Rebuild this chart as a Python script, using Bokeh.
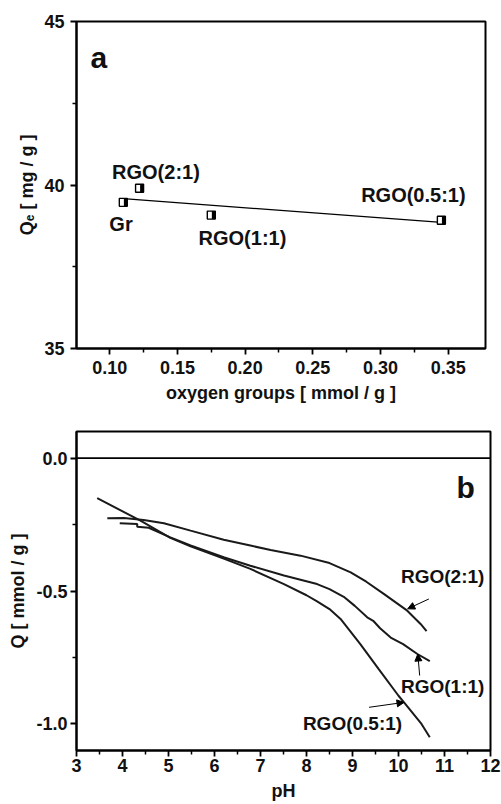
import numpy as np
from bokeh.plotting import figure
from bokeh.layouts import column
from bokeh.models import FixedTicker, ColumnDataSource, Arrow, NormalHead, Span
from bokeh.transform import dodge
from bokeh.core.properties import value
from bokeh.embed import file_html
from bokeh.resources import INLINE

# ---------------- data: panel a ----------------
samples = ["Gr", "RGO(2:1)", "RGO(1:1)", "RGO(0.5:1)"]
oxygen_groups = [0.110, 0.122, 0.175, 0.345]
qe = [39.47, 39.90, 39.08, 38.92]

a_label_text = ["Gr", "RGO(2:1)", "RGO(1:1)", "RGO(0.5:1)"]
a_label_x = [0.1083, 0.1341, 0.198, 0.3243]
a_label_y = [38.80, 40.39, 38.38, 39.70]

a_xticks = [0.10, 0.15, 0.20, 0.25, 0.30, 0.35]
a_xtick_labels = ["0.10", "0.15", "0.20", "0.25", "0.30", "0.35"]
a_xminor = [0.125, 0.175, 0.225, 0.275, 0.325]
a_yticks = [35, 40, 45]
a_ytick_labels = ["35", "40", "45"]
a_yminor = [37.5, 42.5]

# ---------------- data: panel b ----------------
ph_21 = [3.67, 4.03, 4.46, 4.90, 5.48, 6.20, 6.78, 7.22, 7.87, 8.50, 8.96, 9.30, 9.68, 10.19, 10.48, 10.61]
q_21 = [-0.226, -0.225, -0.233, -0.245, -0.273, -0.307, -0.329, -0.346, -0.367, -0.395, -0.430, -0.465, -0.511, -0.574, -0.624, -0.651]

ph_11 = [3.94, 4.32, 4.32, 4.57, 5.04, 5.48, 6.20, 6.78, 7.51, 8.23, 8.50, 8.81, 9.05, 9.32, 9.45, 9.60, 9.83, 10.10, 10.41, 10.68]
q_11 = [-0.245, -0.248, -0.258, -0.262, -0.298, -0.329, -0.373, -0.405, -0.442, -0.474, -0.493, -0.522, -0.556, -0.599, -0.612, -0.640, -0.675, -0.700, -0.737, -0.764]

ph_051 = [3.45, 4.39, 5.04, 5.48, 6.20, 6.78, 7.51, 8.00, 8.23, 8.50, 8.74, 9.17, 9.57, 10.00, 10.12, 10.50, 10.68]
q_051 = [-0.151, -0.235, -0.300, -0.332, -0.378, -0.417, -0.474, -0.516, -0.539, -0.568, -0.605, -0.700, -0.794, -0.894, -0.919, -1.000, -1.050]

b_label_text = ["RGO(2:1)", "RGO(1:1)", "RGO(0.5:1)"]
b_label_x = [10.96, 10.96, 9.0]
b_label_y = [-0.445, -0.860, -0.997]
b_arrow_x0 = [10.66, 10.46, 9.36]
b_arrow_y0 = [-0.530, -0.818, -0.9375]
b_arrow_x1 = [10.20, 10.42, 10.12]
b_arrow_y1 = [-0.567, -0.737, -0.919]

b_xticks = [3, 4, 5, 6, 7, 8, 9, 10, 11, 12]
b_xtick_labels = ["3", "4", "5", "6", "7", "8", "9", "10", "11", "12"]
b_xminor = [3.5, 4.5, 5.5, 6.5, 7.5, 8.5, 9.5, 10.5, 11.5]
b_yticks = [-1.0, -0.5, 0.0]
b_ytick_labels = ["-1.0", "-0.5", "0.0"]
b_yminor = [-0.75, -0.25]

FONT = "Liberation Sans"
INK = "#111111"


def style(p, xt, xl, xm, yt, yl, ym, ylab_standoff, ytick_standoff, xtick_standoff, xlab_standoff):
    p.xgrid.visible = False
    p.ygrid.visible = False
    p.outline_line_color = "black"
    p.outline_line_width = 2
    p.background_fill_color = "white"
    p.border_fill_color = "white"
    p.xaxis.ticker = FixedTicker(ticks=xt, minor_ticks=xm)
    p.yaxis.ticker = FixedTicker(ticks=yt, minor_ticks=ym)
    p.xaxis.major_label_overrides = {t: s for t, s in zip(xt, xl)}
    p.yaxis.major_label_overrides = {t: s for t, s in zip(yt, yl)}
    for ax in p.xaxis + p.yaxis:
        ax.axis_line_width = 2
        ax.axis_line_color = "black"
        ax.major_tick_in = 0
        ax.major_tick_out = 6
        ax.minor_tick_in = 0
        ax.minor_tick_out = 4
        ax.major_tick_line_width = 1.8
        ax.minor_tick_line_width = 1.5
        ax.major_tick_line_color = "black"
        ax.minor_tick_line_color = "black"
        ax.major_label_text_font = FONT
        ax.major_label_text_font_style = "bold"
        ax.major_label_text_font_size = "18px"
        ax.major_label_text_color = INK
        ax.axis_label_text_font = FONT
        ax.axis_label_text_font_style = "bold"
        ax.axis_label_text_font_size = "18px"
        ax.axis_label_text_color = INK
    p.yaxis.axis_label_standoff = ylab_standoff
    p.yaxis.major_label_standoff = ytick_standoff
    p.xaxis.major_label_standoff = xtick_standoff
    p.xaxis.axis_label_standoff = xlab_standoff


# ---------------- panel a ----------------
p1 = figure(frame_width=409, frame_height=327,
            min_border_left=75, min_border_right=17, min_border_top=21, min_border_bottom=60,
            x_range=(0.0754, 0.3776), y_range=(35, 45),
            output_backend="svg", toolbar_location=None)
style(p1, a_xticks, a_xtick_labels, a_xminor, a_yticks, a_ytick_labels, a_yminor, 4, 6, 6, 6)
p1.xaxis.axis_label = "oxygen groups [ mmol / g ]"
p1.yaxis.axis_label = "Q\u2091 [ mg / g ]"

slope, intercept = np.polyfit(oxygen_groups, qe, 1)
fx = np.array([min(oxygen_groups), max(oxygen_groups)])
p1.line(fx, slope * fx + intercept, line_color="black", line_width=1.3)

src_a = ColumnDataSource(dict(x=oxygen_groups, y=qe))
p1.scatter("x", "y", source=src_a, marker="square", size=8,
           fill_color="white", line_color="black", line_width=1.4)
p1.rect(x=dodge("x", 0.0017, range=p1.x_range), y="y", source=src_a,
        width=3.5, height=8, width_units="screen", height_units="screen",
        fill_color="black", line_color=None)

p1.text(x=a_label_x, y=a_label_y, text=a_label_text,
        text_font=value(FONT), text_font_style="bold", text_font_size="20px",
        text_align="center", text_baseline="alphabetic", text_color=INK)
p1.text(x=[0.0857], y=[43.90], text=["a"],
        text_font=value(FONT), text_font_style="bold", text_font_size="30px",
        text_align="left", text_baseline="alphabetic", text_color=INK)

# ---------------- panel b ----------------
p2 = figure(frame_width=414, frame_height=319,
            min_border_left=76, min_border_right=11, min_border_top=23, min_border_bottom=54,
            x_range=(3, 12), y_range=(-1.1, 0.1),
            output_backend="svg", toolbar_location=None)
style(p2, b_xticks, b_xtick_labels, b_xminor, b_yticks, b_ytick_labels, b_yminor, 5, 3, 2, 6)
p2.xaxis.axis_label = "pH"
p2.yaxis.axis_label = "Q [ mmol / g ]"

p2.add_layout(Span(location=0, dimension="width", line_color="black", line_width=1.8))

for xs, ys in [(ph_21, q_21), (ph_11, q_11), (ph_051, q_051)]:
    p2.line(xs, ys, line_color="#1a1a1a", line_width=2)

arrow_src = ColumnDataSource(dict(x0=b_arrow_x0, y0=b_arrow_y0, x1=b_arrow_x1, y1=b_arrow_y1))
p2.add_layout(Arrow(x_start="x0", y_start="y0", x_end="x1", y_end="y1", source=arrow_src,
                    line_color="black", line_width=1,
                    end=NormalHead(size=7, fill_color="black", line_color="black", line_width=1)))

p2.text(x=b_label_x, y=b_label_y, text=b_label_text,
        text_font=value(FONT), text_font_style="bold", text_font_size="19px",
        text_align="center", text_baseline="alphabetic", text_color=INK)
p2.text(x=[11.26], y=[-0.111], text=["b"],
        text_font=value(FONT), text_font_style="bold", text_font_size="30px",
        text_align="left", text_baseline="alphabetic", text_color=INK)

layout = column(p1, p2, spacing=0)
open("out.html", "w").write(file_html(layout, INLINE))
